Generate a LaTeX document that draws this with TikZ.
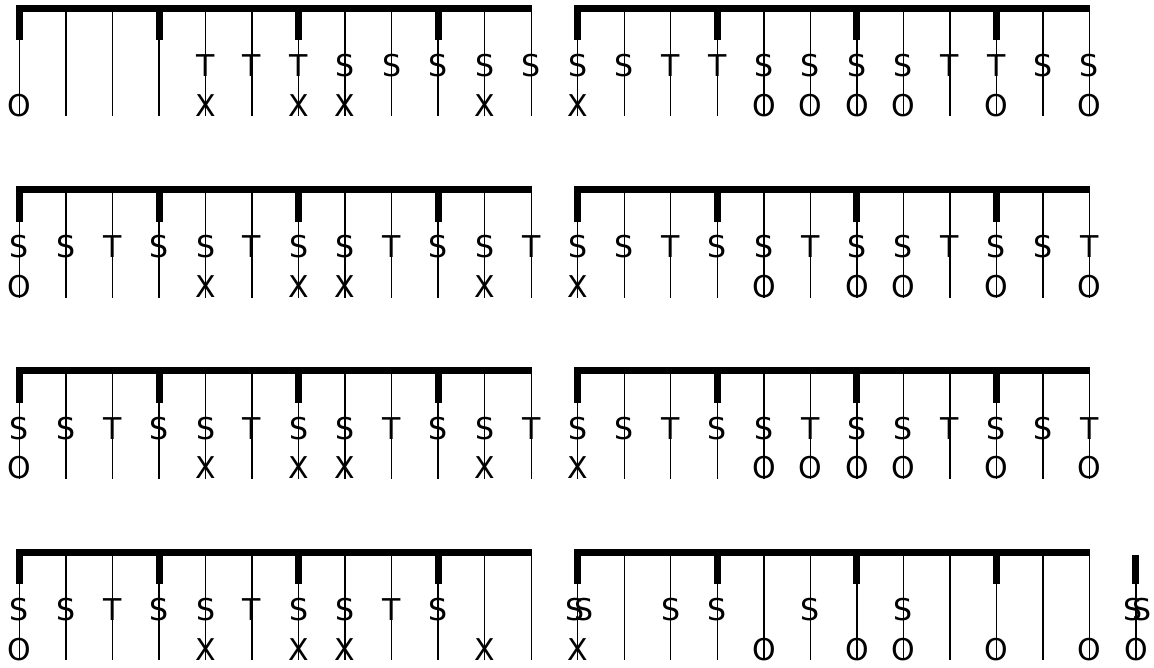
\documentclass[tikz,border=0pt]{standalone}
\usepackage{fontspec}
\setmainfont{DejaVu Sans}
\tikzset{
  barfill/.style={fill=black},
  stem/.style={line width=1.4pt},
  lab/.style={inner sep=0pt, anchor=base, font=\fontsize{30}{30}\selectfont},
}
\begin{document}
\begin{tikzpicture}[x=1pt,y=-1pt]
\useasboundingbox (0,0) rectangle (1154,668);
\def\dx{46.52}
\def\xo{19.5}
% bars, ticks and stems
\foreach \r/\yb in {1/8.5,2/189.7,3/370.9,4/552.1}{
  \fill[barfill] ({\xo-3.5},{\yb-3.5}) rectangle ({\xo+11*\dx+0.7},{\yb+3.5});
  \fill[barfill] ({\xo+12*\dx-3.5},{\yb-3.5}) rectangle ({\xo+23*\dx+0.7},{\yb+3.5});
  \foreach \c in {0,3,6,9,12,15,18,21}{
    \fill[barfill] ({\xo+\c*\dx-3.5},{\yb}) rectangle ({\xo+\c*\dx+3.5},{\yb+32});
  }
  \foreach \c in {0,...,23}{
    \coordinate (s\r-\c) at ({\xo+\c*\dx},{\yb});
    \coordinate (e\r-\c) at ({\xo+\c*\dx},{\yb+108});
    \draw[stem] (s\r-\c) -- (e\r-\c);
  }
}
% extra column in the last row
\fill[barfill] ({\xo+24*\dx-3.5},{552.1+3}) rectangle ({\xo+24*\dx+3.5},{552.1+32});
\coordinate (s4-24) at ({\xo+24*\dx},{552.1+32});
\coordinate (e4-24) at ({\xo+24*\dx},{552.1+108});
\draw[stem] (s4-24) -- (e4-24);

% ---- row 1 labels
\foreach \c/\l in {4/T,5/T,6/T,7/S,8/S,9/S,10/S,11/S,12/S,13/S,14/T,15/T,16/S,17/S,18/S,19/S,20/T,21/T,22/S,23/S}{
  \node[lab] (a1-\c) at ({\xo+\c*\dx},{8.5+68.3}) {\l};
}
\foreach \c/\l in {0/O,4/X,6/X,7/X,10/X,12/X,16/O,17/O,18/O,19/O,21/O,23/O}{
  \node[lab] (b1-\c) at ({\xo+\c*\dx},{8.5+108}) {\l};
}
% ---- rows 2 and 3 upper labels
\foreach \r/\yb in {2/189.7,3/370.9}{
  \foreach \c in {0,...,23}{
    \pgfmathtruncatemacro\m{mod(\c,3)}
    \node[lab] (a\r-\c) at ({\xo+\c*\dx},{\yb+68.3}) {\ifnum\m=2 T\else S\fi};
  }
}
\foreach \c/\l in {0/O,4/X,6/X,7/X,10/X,12/X,16/O,18/O,19/O,21/O,23/O}{
  \node[lab] (b2-\c) at ({\xo+\c*\dx},{189.7+108}) {\l};
}
\foreach \c/\l in {0/O,4/X,6/X,7/X,10/X,12/X,16/O,17/O,18/O,19/O,21/O,23/O}{
  \node[lab] (b3-\c) at ({\xo+\c*\dx},{370.9+108}) {\l};
}
% ---- row 4 labels
\foreach \c/\l in {0/S,1/S,2/T,3/S,4/S,5/T,6/S,7/S,8/T,9/S,14/S,15/S,17/S,19/S}{
  \node[lab] (a4-\c) at ({\xo+\c*\dx},{552.1+68.3}) {\l};
}
\foreach \c in {12,24}{
  \node[lab] (a4-\c) at ({\xo+\c*\dx-3},{552.1+68.3}) {S};
  \node[lab] (a4-\c b) at ({\xo+\c*\dx+6},{552.1+68.3}) {S};
}
\foreach \c/\l in {0/O,4/X,6/X,7/X,10/X,12/X,16/O,18/O,19/O,21/O,23/O,24/O}{
  \node[lab] (b4-\c) at ({\xo+\c*\dx},{552.1+108}) {\l};
}
\end{tikzpicture}
\end{document}
